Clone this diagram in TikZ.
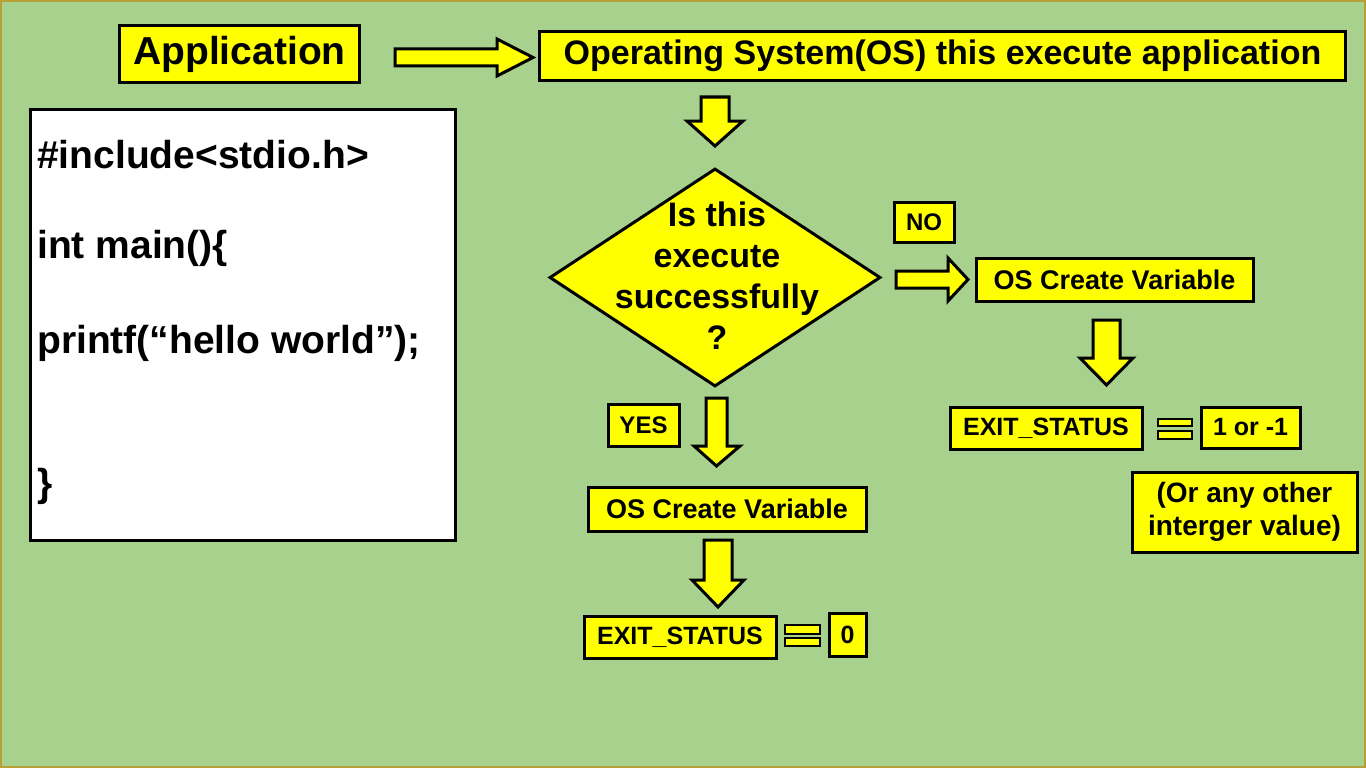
\documentclass[tikz,border=0pt]{standalone}
\usepackage{fontspec}
\setmainfont{Liberation Sans}
\usetikzlibrary{shapes.geometric}
\definecolor{bg}{HTML}{A9D18E}
\definecolor{ylw}{HTML}{FFFF00}
\definecolor{framecol}{HTML}{B8A038}
\newcommand\myfs[2]{\fontsize{#1}{#2}\selectfont\bfseries}
\tikzset{
  ybox/.style={draw=black, fill=ylw, line width=3pt, inner sep=0pt, align=center},
  blockarrow/.style={draw=black, fill=ylw, line width=3pt, line join=miter},
  eqbar/.style={draw=black, fill=ylw, line width=2pt},
  codeline/.style={anchor=base west, inner sep=0pt, font=\myfs{39}{46}},
}
\begin{document}
\begin{tikzpicture}[x=1pt,y=-1pt]
\fill[bg] (0,0) rectangle (1366,768);
\useasboundingbox (0,0) rectangle (1366,768);
\draw[framecol, line width=2pt] (1,1) rectangle (1365,767);

% top row
\node[ybox, minimum width=240pt, minimum height=57pt, font=\myfs{39}{46}] (app) at (239.5,54) {Application};
\node[ybox, minimum width=806pt, minimum height=49pt, font=\myfs{34}{40}] (os) at (942.5,56) {Operating System(OS) this execute application};

% code box
\node[draw=black, fill=white, line width=3pt, minimum width=425pt, minimum height=431pt, inner sep=0pt] (code) at (243,325) {};
\node[codeline] (l1) at (37,168) {\#include<stdio.h>};
\node[codeline] (l2) at (37,258) {int main()\{};
\node[codeline] (l3) at (37,353) {printf(“hello world”);};
\node[codeline] (l4) at (37,496) {\}};

% arrow application -> os
\draw[blockarrow] (395,49) -- (497,49) -- (497,39) -- (533,57.5) -- (497,76) -- (497,66) -- (395,66) -- cycle;
% arrow os -> decision
\draw[blockarrow] (701,97) -- (729,97) -- (729,121) -- (743,121) -- (715,146) -- (687,121) -- (701,121) -- cycle;

% decision
\node[diamond, draw=black, fill=ylw, line width=3pt, minimum width=331pt, minimum height=218pt, inner sep=0pt] (dec) at (715,277.5) {};
\node[align=center, inner sep=0pt, font=\myfs{34}{41}] (dectext) at (717,276) {Is this\\execute\\successfully\\?};

% NO branch
\node[ybox, minimum width=60pt, minimum height=40pt, font=\myfs{24}{28}] (no) at (924,222) {NO};
\draw[blockarrow] (896,271) -- (948,271) -- (948,258) -- (968,279.5) -- (948,301) -- (948,288) -- (896,288) -- cycle;
\node[ybox, minimum width=277pt, minimum height=43pt, font=\myfs{27}{32}] (osvR) at (1114.5,279.5) {OS Create Variable};
\draw[blockarrow] (1093,320) -- (1120,320) -- (1120,358) -- (1133,358) -- (1106.5,385) -- (1080,358) -- (1093,358) -- cycle;
\node[ybox, minimum width=192pt, minimum height=42pt, font=\myfs{25}{30}] (exitR) at (1046,428) {EXIT\_STATUS};
\draw[eqbar] (1158,418.5) rectangle (1192,426);
\draw[eqbar] (1158,431) rectangle (1192,438.5);
\node[ybox, minimum width=99pt, minimum height=41pt, font=\myfs{25}{30}] (oneR) at (1250.5,427.5) {1 or -1};
\node[ybox, minimum width=225pt, minimum height=80pt, font=\myfs{28}{33}] (other) at (1244.5,512) {(Or any other\\interger value)};

% YES branch
\node[ybox, minimum width=71pt, minimum height=42pt, font=\myfs{24}{28}] (yes) at (643.5,425) {YES};
\draw[blockarrow] (706,398) -- (727,398) -- (727,446) -- (740,446) -- (716.5,466) -- (694,446) -- (706,446) -- cycle;
\node[ybox, minimum width=278pt, minimum height=44pt, font=\myfs{27}{32}] (osvB) at (727,509) {OS Create Variable};
\draw[blockarrow] (704,540) -- (732,540) -- (732,580) -- (744,580) -- (718,607) -- (692,580) -- (704,580) -- cycle;
\node[ybox, minimum width=192pt, minimum height=42pt, font=\myfs{25}{30}] (exitB) at (680,637) {EXIT\_STATUS};
\draw[eqbar] (785,625) rectangle (820,633.5);
\draw[eqbar] (785,637.5) rectangle (820,646);
\node[ybox, minimum width=37pt, minimum height=43pt, font=\myfs{25}{30}] (zero) at (847.5,634.5) {0};
\end{tikzpicture}
\end{document}
